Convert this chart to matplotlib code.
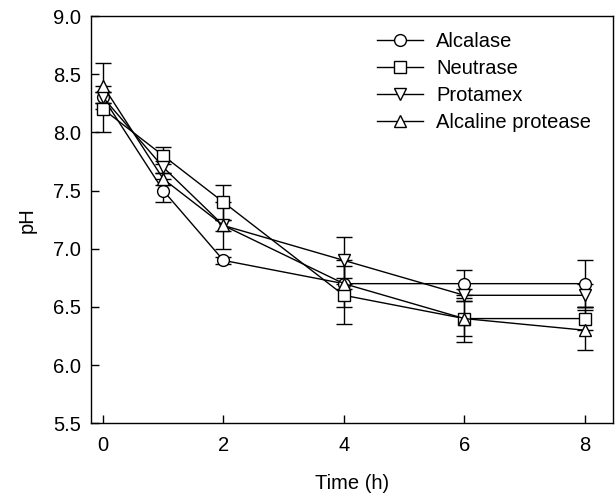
import matplotlib
matplotlib.use('Agg')
import matplotlib.pyplot as plt
import numpy as np

plt.rcParams['font.family'] = ['Liberation Sans', 'DejaVu Sans']

time_h = [0, 1, 2, 4, 6, 8]

alcalase = [8.3, 7.5, 6.9, 6.7, 6.7, 6.7]
alcalase_err = [0.05, 0.1, 0.03, 0.05, 0.12, 0.2]

neutrase = [8.2, 7.8, 7.4, 6.6, 6.4, 6.4]
neutrase_err = [0.2, 0.07, 0.15, 0.25, 0.2, 0.1]

protamex = [8.3, 7.7, 7.2, 6.9, 6.6, 6.6]
protamex_err = [0.05, 0.05, 0.05, 0.2, 0.05, 0.1]

alk_protease = [8.4, 7.6, 7.2, 6.7, 6.4, 6.3]
alk_protease_err = [0.2, 0.05, 0.2, 0.2, 0.15, 0.17]

series = [
    ('Alcalase', alcalase, alcalase_err, 'o'),
    ('Neutrase', neutrase, neutrase_err, 's'),
    ('Protamex', protamex, protamex_err, 'v'),
    ('Alcaline protease', alk_protease, alk_protease_err, '^'),
]

fig = plt.figure(figsize=(6.16, 5.0), dpi=100)
ax = fig.add_axes([0.1477, 0.1534, 0.8474, 0.8146])

for name, vals, err, mk in series:
    ax.errorbar(time_h, vals, yerr=err, color='black', lw=1.0,
                marker=mk, markersize=8.5, markerfacecolor='white',
                markeredgecolor='black', markeredgewidth=1.0,
                ecolor='black', elinewidth=1.0, capsize=6, capthick=1.0,
                label=name)

ax.set_xlim(-0.2, 8.47)
ax.set_ylim(5.5, 9.0)
ax.set_xticks([0, 2, 4, 6, 8])
yt = np.arange(5.5, 9.01, 0.5)
ax.set_yticks(yt)
ax.set_yticklabels([f'{v:.1f}' for v in yt])
ax.tick_params(direction='in', length=5.5, width=1, labelsize=14.5)
ax.tick_params(axis='y', pad=7)
ax.tick_params(axis='x', pad=9)
for s in ax.spines.values():
    s.set_linewidth(1.0)

ax.set_xlabel('Time (h)', fontsize=14.5, labelpad=14)
ax.set_ylabel('pH', fontsize=14.5, labelpad=12)

handles, labels = ax.get_legend_handles_labels()
handles = [h[0] for h in handles]
ax.legend(handles, labels, loc='upper left', frameon=False, fontsize=14.5,
          handlelength=2.3, handletextpad=0.65, labelspacing=0.4,
          borderpad=0, borderaxespad=0, bbox_to_anchor=(0.547, 0.961))

fig.savefig('out.png', dpi=100)
